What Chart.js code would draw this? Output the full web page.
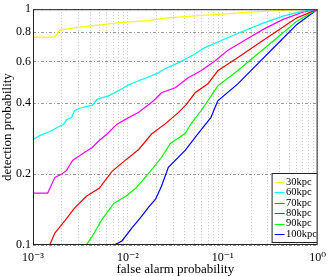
<!DOCTYPE html>
<html><head><meta charset="utf-8">
<script src="https://cdn.jsdelivr.net/npm/chart.js@4/dist/chart.umd.min.js"></script>
<style>html,body{margin:0;padding:0;background:#fff}canvas{display:block}</style>
</head><body>
<canvas id="c" width="332" height="276"></canvas>
<script>
// ---- data (false alarm probability -> detection probability) ----
const seriesLabels = ['30kpc', '60kpc', '70kpc', '80kpc', '90kpc', '100kpc'];

const fa30 = [0.001, 0.0017, 0.00191, 0.00309, 0.00499, 0.00806, 0.01655, 0.02427, 0.03924, 0.08868, 0.1957, 0.4425, 1];
const pd30 = [0.762, 0.762, 0.815, 0.839, 0.856, 0.877, 0.894, 0.916, 0.930, 0.950, 0.971, 0.990, 1];

const fa60 = [0.001, 0.00118, 0.0015, 0.00191, 0.0021, 0.00226, 0.00255, 0.00274, 0.00309, 0.00422, 0.00475, 0.00634, 0.00866, 0.01024, 0.01302, 0.01655, 0.02103, 0.02427, 0.03398, 0.04988, 0.0634, 0.1024, 0.1655, 0.2673, 0.4318, 0.6977, 1];
const pd60 = [0.280, 0.291, 0.303, 0.319, 0.324, 0.340, 0.347, 0.371, 0.380, 0.392, 0.415, 0.430, 0.460, 0.478, 0.497, 0.516, 0.537, 0.558, 0.592, 0.643, 0.684, 0.744, 0.808, 0.873, 0.934, 0.981, 1];

const fa70 = [0.001, 0.00143, 0.0017, 0.002, 0.00226, 0.00261, 0.00348, 0.00422, 0.00499, 0.00604, 0.00768, 0.00953, 0.01302, 0.01866, 0.0226, 0.03162, 0.04317, 0.05904, 0.08254, 0.1127, 0.1655, 0.2673, 0.4318, 0.6977, 1];
const pd70 = [0.166, 0.166, 0.1936, 0.1994, 0.2073, 0.2284, 0.2469, 0.2592, 0.2773, 0.2955, 0.3256, 0.3418, 0.3659, 0.409, 0.442, 0.464, 0.512, 0.548, 0.603, 0.668, 0.733, 0.821, 0.905, 0.971, 1];

const fa80 = [0.0015, 0.0017, 0.00215, 0.00274, 0.00365, 0.00499, 0.00681, 0.00909, 0.01302, 0.01778, 0.0249, 0.03398, 0.04118, 0.05109, 0.06977, 0.08868, 0.1433, 0.2316, 0.3742, 0.6043, 1];
const pd80 = [0.1, 0.1124, 0.1263, 0.1433, 0.1610, 0.1740, 0.2052, 0.2262, 0.2542, 0.2955, 0.3272, 0.3641, 0.3935, 0.442, 0.4826, 0.548, 0.623, 0.710, 0.808, 0.919, 1];

const fa90 = [0.00365, 0.00442, 0.00536, 0.00715, 0.00953, 0.0121, 0.01655, 0.0226, 0.02805, 0.04018, 0.04642, 0.05904, 0.06977, 0.08868, 0.1433, 0.2316, 0.3742, 0.6043, 1];
const pd90 = [0.1, 0.1124, 0.1287, 0.1504, 0.1610, 0.1740, 0.2012, 0.2350, 0.2693, 0.2970, 0.3272, 0.371, 0.409, 0.4733, 0.548, 0.644, 0.757, 0.890, 1];

const fa100 = [0.00715, 0.00866, 0.011, 0.014, 0.01655, 0.01957, 0.0226, 0.02673, 0.04018, 0.05494, 0.07499, 0.08868, 0.1433, 0.2316, 0.3742, 0.6043, 1];
const pd100 = [0.1, 0.1040, 0.1180, 0.1326, 0.1447, 0.1563, 0.1774, 0.2134, 0.2517, 0.2970, 0.347, 0.409, 0.4812, 0.5845, 0.710, 0.862, 1];

// ---- ticks ----
const xGridValues = [0.001, 0.002, 0.003, 0.004, 0.005, 0.006, 0.007, 0.008, 0.009,
                     0.01, 0.02, 0.03, 0.04, 0.05, 0.06, 0.07, 0.08, 0.09,
                     0.1, 0.2, 0.3, 0.4, 0.5, 0.6, 0.7, 0.8, 0.9, 1];
const xMajorValues = [0.001, 0.01, 0.1, 1];
const xMajorLabels = ['10\u207B\u00B3', '10\u207B\u00B2', '10\u207B\u00B9', '10\u2070'];
const yTickValues = [0.1, 0.2, 0.4, 0.6, 0.8, 1];
const yTickLabels = ['0.1', '0.2', '0.4', '0.6', '0.8', '1'];

const xTitle = 'false alarm probability';
const yTitle = 'detection probability';

// ---- build chart ----
const colors = ['#ffff00', '#00ffff', '#ff00ff', '#ff0000', '#00ff00', '#0000ff'];
const faSeries = [fa30, fa60, fa70, fa80, fa90, fa100];
const pdSeries = [pd30, pd60, pd70, pd80, pd90, pd100];
const serif = "'Liberation Serif', 'Times New Roman', 'DejaVu Serif', serif";

const datasets = seriesLabels.map((lab, i) => ({
  label: lab,
  data: faSeries[i].map((x, j) => ({ x: x, y: pdSeries[i][j] })),
  borderColor: colors[i],
  backgroundColor: colors[i],
  borderWidth: 1.2,
  pointRadius: 0,
  tension: 0,
  fill: false
}));

const framePlugin = {
  id: 'frame',
  afterDatasetsDraw(chart) {
    const a = chart.chartArea, c = chart.ctx;
    c.save();
    c.strokeStyle = '#222';
    c.lineWidth = 1;
    c.strokeRect(a.left + 0.5, a.top + 0.5, a.right - a.left - 1, a.bottom - a.top - 1);
    c.restore();
  }
};

const boxLegend = {
  id: 'boxLegend',
  afterDraw(chart) {
    const a = chart.chartArea, c = chart.ctx;
    const w = 46, h = 70;
    const x0 = a.right - w, y0 = a.bottom - h - 2;
    c.save();
    c.fillStyle = '#fff';
    c.fillRect(x0, y0, w, h);
    c.strokeStyle = '#222';
    c.lineWidth = 1;
    c.strokeRect(x0 + 0.5, y0 + 0.5, w - 1, h - 1);
    c.font = '10.5px ' + serif;
    c.textBaseline = 'middle';
    c.textAlign = 'left';
    chart.data.datasets.forEach((ds, i) => {
      const yy = y0 + 9 + i * 10.4;
      c.strokeStyle = ds.borderColor;
      c.beginPath();
      c.moveTo(x0 + 3, Math.round(yy) + 0.5);
      c.lineTo(x0 + 13, Math.round(yy) + 0.5);
      c.stroke();
      c.fillStyle = '#000';
      c.fillText(ds.label, x0 + 14.5, yy);
    });
    c.restore();
  }
};

new Chart(document.getElementById('c'), {
  type: 'line',
  data: { datasets: datasets },
  plugins: [framePlugin, boxLegend],
  options: {
    responsive: false,
    animation: false,
    devicePixelRatio: 1,
    layout: { padding: { top: 8, right: 11, left: 0, bottom: 0 } },
    plugins: { legend: { display: false }, tooltip: { enabled: false } },
    scales: {
      x: {
        type: 'logarithmic',
        min: 0.001, max: 1,
        afterFit(s) { s.height = 31; },
        afterBuildTicks(s) { s.ticks = xGridValues.map(v => ({ value: v })); },
        ticks: {
          autoSkip: false, maxRotation: 0, minRotation: 0, padding: 6,
          color: '#000', font: { family: serif, size: 12 },
          callback(v) {
            const k = xMajorValues.findIndex(m => Math.abs(v - m) / m < 1e-6);
            return k >= 0 ? xMajorLabels[k] : '';
          }
        },
        grid: { drawTicks: false, lineWidth: 1, color: '#c4c4c4' },
        border: { display: false, dash: [1, 2] },
        title: {
          display: true, text: xTitle, color: '#000',
          font: { family: serif, size: 13, lineHeight: 1 }, padding: { top: 0, bottom: 0 }
        }
      },
      y: {
        type: 'logarithmic',
        min: 0.1, max: 1,
        afterFit(s) { s.width = 33; },
        afterBuildTicks(s) { s.ticks = yTickValues.map(v => ({ value: v })); },
        ticks: {
          autoSkip: false, padding: 2,
          color: '#000', font: { family: serif, size: 12 },
          callback(v) {
            const k = yTickValues.findIndex(m => Math.abs(v - m) / m < 1e-6);
            return k >= 0 ? yTickLabels[k] : '';
          }
        },
        grid: { drawTicks: false, lineWidth: 1, color: '#9a9a9a' },
        border: { display: false, dash: [3, 2, 1, 2] },
        title: {
          display: true, text: yTitle, color: '#000',
          font: { family: serif, size: 13, lineHeight: 1 }, padding: { top: 1.5, bottom: 0 }
        }
      }
    }
  }
});
</script>
</body></html>
